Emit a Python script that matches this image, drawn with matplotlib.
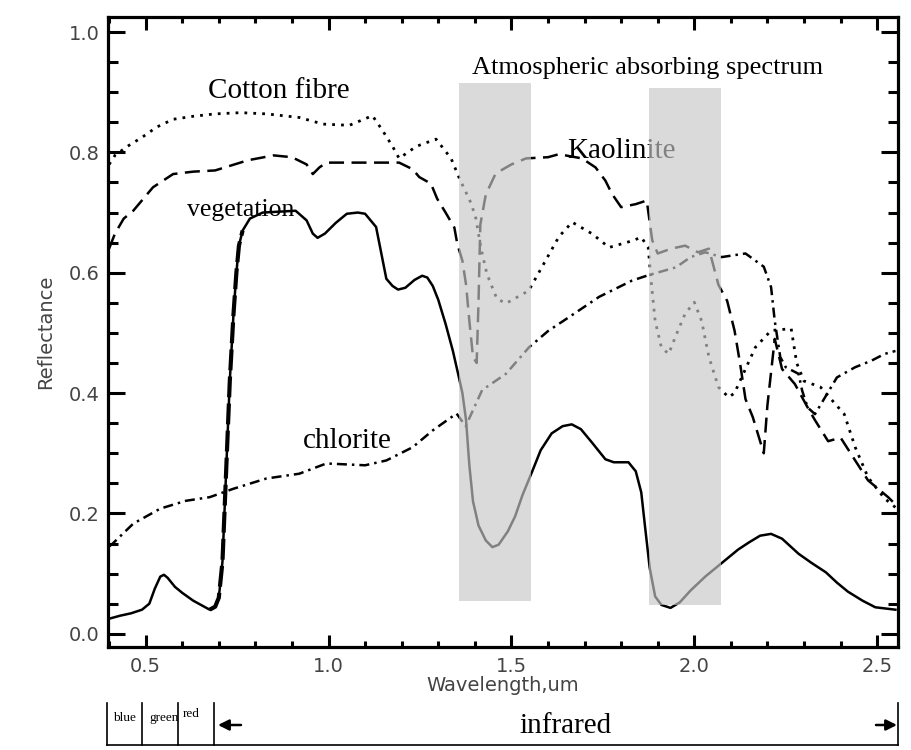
import matplotlib
matplotlib.use("Agg")
import matplotlib.pyplot as plt
from matplotlib.patches import Rectangle, FancyArrowPatch
from matplotlib.lines import Line2D
from matplotlib.ticker import MultipleLocator

# --- reflectance spectra (wavelength in um, reflectance 0..1) ---
veg_x = [0.40, 0.43, 0.46, 0.49, 0.51, 0.525, 0.54, 0.55, 0.56, 0.58, 0.60, 0.63, 0.66,
         0.675, 0.69, 0.70, 0.71, 0.72, 0.73, 0.74, 0.748, 0.755, 0.765, 0.785, 0.82, 0.91,
         0.94, 0.957, 0.97, 0.99, 1.02, 1.05, 1.08, 1.10, 1.13, 1.145, 1.158, 1.175, 1.19,
         1.21, 1.235, 1.256, 1.27, 1.285, 1.30, 1.32, 1.34, 1.355, 1.366, 1.376, 1.385, 1.395,
         1.41, 1.43, 1.448, 1.465, 1.49, 1.51, 1.53, 1.557, 1.58, 1.61, 1.64, 1.665, 1.69,
         1.72, 1.757, 1.78, 1.82, 1.84, 1.855, 1.865, 1.878, 1.893, 1.91, 1.935, 1.96, 1.99,
         2.03, 2.08, 2.12, 2.15, 2.18, 2.21, 2.24, 2.285, 2.32, 2.36, 2.39, 2.42, 2.46, 2.495,
         2.55]
veg_y = [0.025, 0.03, 0.034, 0.04, 0.05, 0.075, 0.095, 0.098, 0.093, 0.078, 0.068, 0.055,
         0.045, 0.04, 0.045, 0.06, 0.12, 0.27, 0.42, 0.53, 0.60, 0.645, 0.67, 0.69, 0.70,
         0.703, 0.687, 0.665, 0.658, 0.665, 0.683, 0.698, 0.70, 0.698, 0.676, 0.63, 0.59,
         0.578, 0.572, 0.575, 0.588, 0.595, 0.592, 0.578, 0.555, 0.515, 0.47, 0.43, 0.40,
         0.355, 0.28, 0.22, 0.18, 0.155, 0.144, 0.148, 0.17, 0.195, 0.23, 0.27, 0.305, 0.333,
         0.345, 0.348, 0.34, 0.318, 0.29, 0.285, 0.285, 0.27, 0.235, 0.18, 0.11, 0.062, 0.048,
         0.043, 0.052, 0.072, 0.095, 0.12, 0.14, 0.152, 0.163, 0.166, 0.158, 0.133, 0.118,
         0.102, 0.085, 0.07, 0.055, 0.044, 0.04]

cotton_x = [0.40, 0.416, 0.45, 0.49, 0.53, 0.575, 0.63, 0.69, 0.76, 0.83, 0.92, 0.985, 1.057,
            1.12, 1.147, 1.175, 1.193, 1.24, 1.294, 1.335, 1.357, 1.39, 1.403, 1.417, 1.433,
            1.46, 1.485, 1.547, 1.584, 1.63, 1.666, 1.72, 1.767, 1.83, 1.855, 1.874, 1.883,
            1.893, 1.91, 1.93, 1.948, 1.975, 2.0, 2.02, 2.04, 2.066, 2.094, 2.11, 2.167, 2.21,
            2.265, 2.28, 2.30, 2.345, 2.41, 2.44, 2.475, 2.52, 2.55]
cotton_y = [0.78, 0.795, 0.81, 0.825, 0.842, 0.855, 0.86, 0.864, 0.866, 0.864, 0.858, 0.847,
            0.845, 0.861, 0.837, 0.81, 0.79, 0.81, 0.822, 0.79, 0.758, 0.715, 0.69, 0.64,
            0.598, 0.557, 0.549, 0.57, 0.61, 0.66, 0.684, 0.665, 0.642, 0.653, 0.659, 0.642,
            0.58, 0.52, 0.476, 0.465, 0.493, 0.532, 0.551, 0.52, 0.46, 0.41, 0.393, 0.40,
            0.476, 0.504, 0.507, 0.45, 0.42, 0.41, 0.365, 0.31, 0.26, 0.225, 0.21]

kaol_x = [0.40, 0.416, 0.44, 0.466, 0.52, 0.575, 0.63, 0.69, 0.78, 0.85, 0.90, 0.94, 0.957,
          0.975, 0.994, 1.10, 1.193, 1.23, 1.248, 1.28, 1.297, 1.32, 1.344, 1.352, 1.366,
          1.376, 1.385, 1.395, 1.405, 1.41, 1.415, 1.43, 1.457, 1.50, 1.54, 1.60, 1.63, 1.693,
          1.73, 1.757, 1.775, 1.80, 1.84, 1.87, 1.875, 1.885, 1.90, 1.937, 1.975, 2.01, 2.04,
          2.066, 2.09, 2.11, 2.125, 2.14, 2.16, 2.19, 2.20, 2.22, 2.24, 2.275, 2.31, 2.33,
          2.366, 2.40, 2.44, 2.475, 2.53, 2.55]
kaol_y = [0.64, 0.665, 0.69, 0.703, 0.742, 0.764, 0.768, 0.77, 0.787, 0.795, 0.792, 0.78,
          0.764, 0.775, 0.783, 0.783, 0.783, 0.772, 0.759, 0.748, 0.723, 0.70, 0.675, 0.648,
          0.62, 0.58, 0.52, 0.46, 0.45, 0.55, 0.68, 0.73, 0.765, 0.78, 0.79, 0.792, 0.797,
          0.79, 0.775, 0.753, 0.731, 0.709, 0.714, 0.72, 0.698, 0.654, 0.632, 0.64, 0.645,
          0.634, 0.64, 0.58, 0.553, 0.504, 0.45, 0.39, 0.36, 0.30, 0.38, 0.49, 0.44, 0.415,
          0.376, 0.355, 0.32, 0.326, 0.288, 0.255, 0.227, 0.215]

chl_x = [0.40, 0.41, 0.466, 0.54, 0.61, 0.675, 0.74, 0.83, 0.92, 0.994, 1.10, 1.158, 1.23,
         1.285, 1.35, 1.375, 1.42, 1.485, 1.548, 1.60, 1.657, 1.74, 1.83, 1.875, 1.95, 1.99,
         2.03, 2.075, 2.14, 2.19, 2.21, 2.22, 2.235, 2.25, 2.285, 2.295, 2.31, 2.33, 2.39,
         2.44, 2.485, 2.52, 2.55]
chl_y = [0.145, 0.15, 0.183, 0.208, 0.221, 0.227, 0.241, 0.258, 0.266, 0.283, 0.28, 0.288,
         0.31, 0.338, 0.366, 0.345, 0.405, 0.432, 0.476, 0.503, 0.526, 0.56, 0.587, 0.596,
         0.609, 0.626, 0.634, 0.626, 0.632, 0.61, 0.576, 0.52, 0.46, 0.443, 0.432, 0.404,
         0.376, 0.365, 0.426, 0.443, 0.454, 0.465, 0.47]

# atmospheric absorption windows: (x0, x1, y0, y1)
band1 = [1.357, 1.553, 0.055, 0.915]
band2 = [1.875, 2.072, 0.047, 0.907]

xticks = [0.5, 1.0, 1.5, 2.0, 2.5]
xticklabels = ["0.5", "1.0", "1.5", "2.0", "2.5"]
yticks = [0.0, 0.2, 0.4, 0.6, 0.8, 1.0]
yticklabels = ["0.0", "0.2", "0.4", "0.6", "0.8", "1.0"]

W, H = 912, 750
fig = plt.figure(figsize=(W / 100, H / 100), dpi=100)
ax = fig.add_axes([108 / W, 1 - 647 / H, 790 / W, 630 / H])

ax.set_xlim(0.397, 2.557)
ax.set_ylim(-0.022, 1.025)

lw = 1.8
ax.plot(veg_x, veg_y, color="black", lw=lw, zorder=3)
# the red edge is drawn heavier
ax.plot(veg_x[13:23], veg_y[13:23], color="black", lw=3.0, ls=(0, (5, 1.5)), zorder=3)
ax.plot(cotton_x, cotton_y, color="black", lw=2.0, ls=(0, (1, 2.2)), zorder=3)
ax.plot(kaol_x, kaol_y, color="black", lw=lw, ls=(0, (6, 3)), zorder=3)
ax.plot(chl_x, chl_y, color="black", lw=lw, ls=(0, (4, 2, 1, 2)), zorder=3)

for b in (band1, band2):
    ax.add_patch(Rectangle((b[0], b[2]), b[1] - b[0], b[3] - b[2],
                           facecolor=(0.78, 0.78, 0.78), alpha=0.65,
                           edgecolor="none", zorder=5))

serif = "Liberation Serif"
ax.text(1.392, 0.93, "Atmospheric absorbing spectrum", family=serif, fontsize=19,
        ha="left", va="baseline", zorder=2)
ax.text(0.67, 0.891, "Cotton fibre", family=serif, fontsize=21, ha="left", va="baseline",
        zorder=2)
ax.text(0.613, 0.695, "vegetation", family=serif, fontsize=18.5, ha="left", va="baseline",
        zorder=2)
ax.text(1.652, 0.79, "Kaolinite", family=serif, fontsize=21, ha="left", va="baseline",
        zorder=2)
ax.text(0.929, 0.308, "chlorite", family=serif, fontsize=21, ha="left", va="baseline",
        zorder=2)

# axes frame and ticks
for s in ax.spines.values():
    s.set_linewidth(2.3)
ax.set_xticks(xticks)
ax.set_xticklabels(xticklabels)
ax.set_yticks(yticks)
ax.set_yticklabels(yticklabels)
ax.xaxis.set_minor_locator(MultipleLocator(0.1))
ax.yaxis.set_minor_locator(MultipleLocator(0.05))
ax.tick_params(axis="both", which="both", direction="in", top=True, right=True,
               width=2.2, labelsize=14, labelcolor="#444444")
ax.tick_params(axis="x", which="major", length=9, pad=7)
ax.tick_params(axis="x", which="minor", length=4)
ax.tick_params(axis="y", which="major", length=12, pad=6)
ax.tick_params(axis="y", which="minor", length=7)
ax.set_xlabel("Wavelength,um", fontsize=14, color="#444444", labelpad=0)
ax.set_ylabel("Reflectance", fontsize=14, color="#444444", labelpad=10)

# spectral region bar below the plot
def fx(px):
    return px / W

def fy(py):
    return 1 - py / H

kw = dict(color="black", lw=1.2, transform=fig.transFigure)
for px in (107, 142, 178, 214, 898):
    fig.add_artist(Line2D([fx(px), fx(px)], [fy(703), fy(745)], **kw))
fig.add_artist(Line2D([fx(107), fx(898)], [fy(745), fy(745)], **kw))

fig.text(fx(113), fy(721), "blue", family=serif, fontsize=9.5, va="baseline")
fig.text(fx(149), fy(721), "green", family=serif, fontsize=9.5, va="baseline")
fig.text(fx(183), fy(717), "red", family=serif, fontsize=9.5, va="baseline")
fig.text(fx(566), fy(733), "infrared", family=serif, fontsize=21, ha="center",
         va="baseline")

arrow = dict(arrowstyle="-|>", color="black", lw=1.8, mutation_scale=16,
             shrinkA=0, shrinkB=0)
fig.add_artist(FancyArrowPatch((fx(241), fy(725)), (fx(218), fy(725)),
                               transform=fig.transFigure, **arrow))
fig.add_artist(FancyArrowPatch((fx(876), fy(725)), (fx(897), fy(725)),
                               transform=fig.transFigure, **arrow))

fig.savefig("out.png", dpi=100)
